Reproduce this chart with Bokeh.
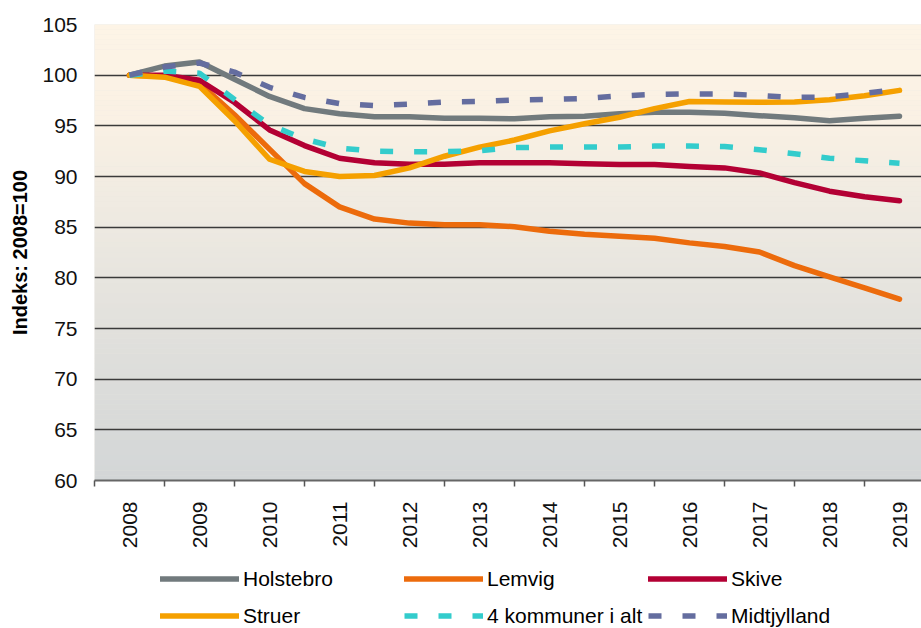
import math
from bokeh.plotting import figure
from bokeh.layouts import column
from bokeh.models import Range1d, FixedTicker, Legend, LegendItem, BoxAnnotation
from bokeh.embed import file_html
from bokeh.resources import INLINE

# ---- data ----
years = [2008, 2009, 2010, 2011, 2012, 2013, 2014, 2015, 2016, 2017, 2018, 2019]
tick_labels = [str(y) for y in years]
periods = [2008.0, 2008.5, 2009.0, 2009.5, 2010.0, 2010.5, 2011.0, 2011.5,
           2012.0, 2012.5, 2013.0, 2013.5, 2014.0, 2014.5, 2015.0, 2015.5,
           2016.0, 2016.5, 2017.0, 2017.5, 2018.0, 2018.5, 2019.0]

holstebro = [100.0, 100.9, 101.3, 99.6, 97.9, 96.7, 96.2, 95.9, 95.9, 95.75, 95.75, 95.7,
             95.9, 95.95, 96.2, 96.35, 96.35, 96.25, 96.0, 95.8, 95.5, 95.75, 95.95]
lemvig = [100.0, 99.9, 99.2, 96.1, 92.7, 89.3, 87.0, 85.8, 85.4, 85.25, 85.25, 85.05,
          84.6, 84.3, 84.1, 83.9, 83.45, 83.1, 82.55, 81.2, 80.1, 79.0, 77.9]
skive = [100.0, 100.0, 99.5, 97.3, 94.6, 93.05, 91.8, 91.35, 91.2, 91.2, 91.35, 91.35,
         91.35, 91.25, 91.18, 91.18, 90.98, 90.85, 90.35, 89.4, 88.55, 88.0, 87.6]
struer = [100.0, 99.8, 98.9, 95.5, 91.7, 90.5, 90.0, 90.1, 90.85, 92.0, 92.9, 93.6,
          94.5, 95.2, 95.85, 96.7, 97.4, 97.35, 97.33, 97.35, 97.57, 97.96, 98.5]
kommuner4 = [100.0, 100.4, 100.2, 97.6, 95.1, 93.7, 92.8, 92.5, 92.45, 92.45, 92.55, 92.85,
             92.9, 92.9, 92.9, 93.0, 93.0, 92.95, 92.65, 92.25, 91.8, 91.55, 91.3]
midtjylland = [100.0, 100.8, 101.2, 100.3, 98.8, 97.8, 97.2, 97.0, 97.15, 97.35, 97.4, 97.55,
               97.6, 97.7, 97.95, 98.1, 98.15, 98.15, 98.0, 97.8, 97.85, 98.2, 98.6]

y_ticks = [60, 65, 70, 75, 80, 85, 90, 95, 100, 105]
series_names = ["Holstebro", "Lemvig", "Skive", "Struer", "4 kommuner i alt", "Midtjylland"]
series_values = [holstebro, lemvig, skive, struer, kommuner4, midtjylland]

# ---- styles ----
FONT = "Liberation Sans"
W = 5.5
styles = [
    dict(line_color="#717A7D", line_width=W, line_cap="round", line_join="round"),
    dict(line_color="#EC6B0C", line_width=W, line_cap="round", line_join="round"),
    dict(line_color="#B30034", line_width=W, line_cap="round", line_join="round"),
    dict(line_color="#F5A000", line_width=W, line_cap="round", line_join="round"),
    dict(line_color="#33CCCC", line_width=W, line_dash="13 21"),
    dict(line_color="#646D9F", line_width=W, line_dash="13 21"),
]

# ---- main chart ----
p = figure(frame_width=827, frame_height=456, output_backend="svg", toolbar_location=None,
           x_range=Range1d(2007.5, 2007.5 + 827 / 70.0), y_range=Range1d(60, 105),
           min_border_left=94, min_border_right=0, min_border_top=24, min_border_bottom=70)
p.outline_line_color = None
p.border_fill_color = "white"
p.background_fill_color = "#E8E5DF"

# gradient background (peach top -> grey bottom)
stops = [(105, (253, 244, 230)), (96, (250, 241, 228)), (85, (237, 233, 225)),
         (72, (222, 222, 219)), (60, (211, 214, 215))]

def grad(v):
    for (v1, c1), (v2, c2) in zip(stops[:-1], stops[1:]):
        if v2 <= v <= v1:
            t = (v1 - v) / (v1 - v2)
            return "#%02x%02x%02x" % tuple(int(round(a + (b - a) * t)) for a, b in zip(c1, c2))
    return "#%02x%02x%02x" % stops[-1][1]

nb = 90
for i in range(nb):
    lo = 60 + 45.0 * i / nb
    hi = 60 + 45.0 * (i + 1) / nb
    p.add_layout(BoxAnnotation(bottom=lo, top=hi + 0.02, fill_color=grad((lo + hi) / 2),
                               fill_alpha=1, line_color=None, level="image"))

# axes
p.xaxis.ticker = FixedTicker(ticks=years, minor_ticks=[y - 0.5 for y in years] + [years[-1] + 0.5])
p.xaxis.major_label_overrides = {y: s for y, s in zip(years, tick_labels)}
p.xaxis.major_label_orientation = math.pi / 2
p.xaxis.major_tick_out = 0
p.xaxis.major_tick_in = 0
p.xaxis.minor_tick_out = 6
p.xaxis.minor_tick_in = 0
p.xaxis.minor_tick_line_color = "#555555"
p.xaxis.minor_tick_line_width = 1.5
p.xaxis.axis_line_color = "#666666"
p.xaxis.axis_line_width = 2
p.xaxis.major_label_standoff = 15
p.xaxis.major_label_text_font = FONT
p.xaxis.major_label_text_font_size = "21px"
p.xaxis.major_label_text_color = "#111111"

p.yaxis.ticker = FixedTicker(ticks=y_ticks)
p.yaxis.axis_line_color = None
p.yaxis.major_tick_line_color = None
p.yaxis.minor_tick_line_color = None
p.yaxis.major_label_standoff = 11
p.yaxis.major_label_text_font = FONT
p.yaxis.major_label_text_font_size = "21px"
p.yaxis.major_label_text_color = "#111111"
p.yaxis.axis_label = "Indeks: 2008=100"
p.yaxis.axis_label_text_font = FONT
p.yaxis.axis_label_text_font_style = "bold"
p.yaxis.axis_label_text_font_size = "20px"
p.yaxis.axis_label_text_color = "#000000"
p.yaxis.axis_label_standoff = 8

p.xgrid.grid_line_color = None
p.ygrid.grid_line_color = "#3a3a3a"
p.ygrid.grid_line_width = 1.3

for vals, st in zip(series_values, styles):
    p.line(periods, vals, **st)

# ---- legend strip (separate figure below the chart; its frame aligns with the chart's) ----
leg = figure(width=921, height=78, output_backend="svg", toolbar_location=None,
             x_range=Range1d(0, 1), y_range=Range1d(0, 1),
             x_axis_location=None, y_axis_location=None,
             min_border=0, outline_line_color=None)
leg.grid.visible = False
# same series drawn outside the strip's visible range, only used for the legend swatches
leg_renderers = [leg.line(periods, vals, **st) for vals, st in zip(series_values, styles)]

col_x = [66, 310, 554]
for c in range(3):
    a, b = c, c + 3
    lg = Legend(items=[LegendItem(label=series_names[a], renderers=[leg_renderers[a]]),
                       LegendItem(label=series_names[b], renderers=[leg_renderers[b]])],
                location=(col_x[c], -5), orientation="vertical",
                glyph_width=79, glyph_height=37, label_standoff=4, spacing=0,
                padding=0, margin=0, border_line_color=None, background_fill_alpha=0,
                label_text_font=FONT, label_text_font_size="21px", label_text_color="#000000")
    leg.add_layout(lg)

layout = column(p, leg, spacing=0)
open("out.html", "w").write(file_html(layout, INLINE))
